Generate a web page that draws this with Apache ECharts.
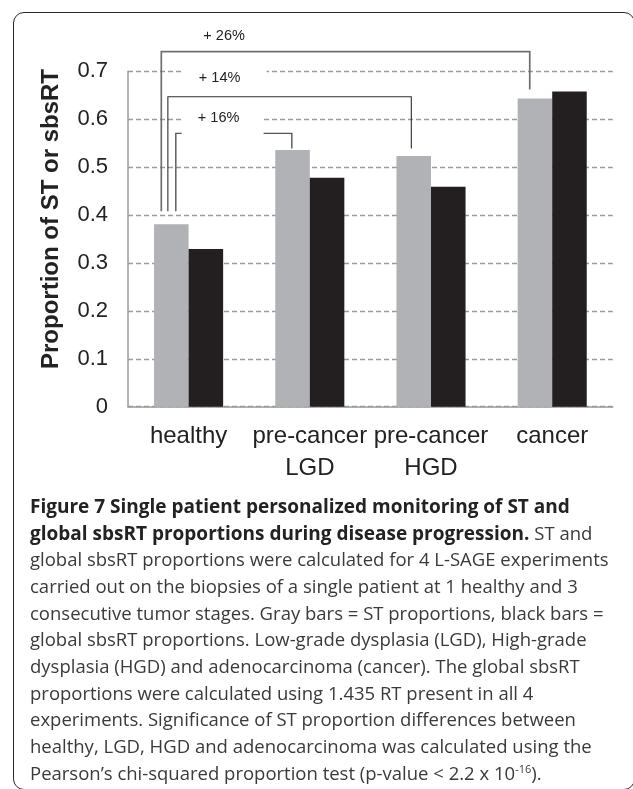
<!DOCTYPE html>
<html>
<head>
<meta charset="utf-8">
<script src="https://cdn.jsdelivr.net/npm/echarts@6/dist/echarts.min.js"></script>
<style>
  html, body { margin: 0; padding: 0; background: #fff; }
  #chart { position: absolute; left: 0; top: 0; width: 633px; height: 789px; }
  #frame { position: absolute; left: 13px; top: 12px; width: 622px; height: 778px;
           border: 1.5px solid #2a2a2a; border-radius: 11px; box-sizing: border-box; pointer-events: none; }
  #caption { position: absolute; left: 30px; top: 493px; font-family: "Open Sans", sans-serif;
             font-size: 18.5px; line-height: 26.67px; color: #3a3a3a; white-space: nowrap; }
  #caption b { font-weight: 700; color: #222; font-size: 19px; }
  #caption sup { font-size: 11px; line-height: 0; vertical-align: 7px; }
</style>
</head>
<body>
<div id="chart"></div>
<div id="frame"></div>
<div id="caption">
<b>Figure 7 Single patient personalized monitoring of ST and</b><br>
<b>global sbsRT proportions during disease progression.</b> ST and<br>
global sbsRT proportions were calculated for 4 L-SAGE experiments<br>
carried out on the biopsies of a single patient at 1 healthy and 3<br>
consecutive tumor stages. Gray bars = ST proportions, black bars =<br>
global sbsRT proportions. Low-grade dysplasia (LGD), High-grade<br>
dysplasia (HGD) and adenocarcinoma (cancer). The global sbsRT<br>
proportions were calculated using 1.435 RT present in all 4<br>
experiments. Significance of ST proportion differences between<br>
healthy, LGD, HGD and adenocarcinoma was calculated using the<br>
Pearson’s chi-squared proportion test (p-value &lt; 2.2 x 10<sup>-16</sup>).
</div>
<script>
// ---- data ----
const categories = ['healthy', 'pre-cancer\nLGD', 'pre-cancer\nHGD', 'cancer'];
const stValues = [0.381, 0.536, 0.523, 0.643];      // gray bars (ST)
const sbsrtValues = [0.329, 0.478, 0.459, 0.658];   // black bars (global sbsRT)
const yTicks = [0, 0.1, 0.2, 0.3, 0.4, 0.5, 0.6, 0.7];
const bracketLabels = ['+ 26%', '+ 14%', '+ 16%'];
const bracketFrom = [0, 0, 0];   // category index of left end
const bracketTo = [3, 2, 1];     // category index of right end
const bracketTop = [0.741, 0.647, 0.5705];      // level of horizontal line (y units)
const bracketLeftBottom = [0.408, 0.408, 0.408];
const bracketRightBottom = [0.662, 0.539, 0.539];
const bracketLabelY = [0.7735, 0.6854, 0.602];

const chart = echarts.init(document.getElementById('chart'));
const GAP = 0.43;
const FONT = '"Liberation Sans", Arial, Helvetica, sans-serif';

chart.setOption({
  animation: false,
  backgroundColor: '#fff',
  grid: { left: 128, right: 20.2, top: 71.3, bottom: 382.3, containLabel: false },
  xAxis: {
    type: 'category',
    data: categories,
    axisLine: { lineStyle: { color: '#9a9a9a', width: 1.5 } },
    axisTick: { show: false },
    axisLabel: { fontFamily: FONT, fontSize: 24, lineHeight: 32, color: '#222', margin: 14, interval: 0 }
  },
  yAxis: {
    type: 'value',
    min: 0, max: 0.7, interval: 0.1,
    axisLine: { show: true, lineStyle: { color: '#9a9a9a', width: 1.5 } },
    axisTick: { show: false },
    splitLine: { show: true, lineStyle: { color: '#9a9a9a', width: 1.3, type: [5, 3] } },
    axisLabel: {
      fontFamily: FONT, fontSize: 22, color: '#222', margin: 20,
      padding: [0, 0, 5, 0],
      formatter: v => {
        const t = yTicks.find(x => Math.abs(x - v) < 1e-9);
        return t === 0 ? '0' : (t !== undefined ? t.toFixed(1) : '');
      }
    }
  },
  series: [
    { name: 'ST', type: 'bar', data: stValues, barGap: '0%', barCategoryGap: (GAP * 100) + '%',
      itemStyle: { color: '#b1b2b5' }, z: 2 },
    { name: 'global sbsRT', type: 'bar', data: sbsrtValues,
      itemStyle: { color: '#231f20' }, z: 2 }
  ]
});

function px(cat, val) { return chart.convertToPixel({ xAxisIndex: 0, yAxisIndex: 0 }, [cat, val]); }

const c0 = px(0, 0), c1 = px(1, 0);
const catW = c1[0] - c0[0];
const barW = catW * (1 - GAP) / 2;
function grayLeft(cat) { return px(cat, 0)[0] - barW; }

const leftFrac = [0.21, 0.40, 0.63];
const rightFrac = [0.35, 0.43, 0.48];
const lineColors = ['#6f6f6f', '#2f2f2f', '#555555'];
const lineWidths = [1.7, 1.1, 1.4];

const elements = [];
for (let i = 0; i < bracketLabels.length; i++) {
  const xl = grayLeft(bracketFrom[i]) + leftFrac[i] * barW;
  const xr = grayLeft(bracketTo[i]) + rightFrac[i] * barW;
  const yTop = px(0, bracketTop[i])[1];
  const yLB = px(0, bracketLeftBottom[i])[1];
  const yRB = px(0, bracketRightBottom[i])[1];
  elements.push({
    type: 'polyline', z: 10,
    shape: { points: [[xl, yLB], [xl, yTop], [xr, yTop], [xr, yRB]] },
    style: { stroke: lineColors[i], lineWidth: lineWidths[i], fill: null }
  });
}
// white label boxes (cover gridlines behind labels)
const boxSpec = [null, { l: -7, r: 78, t: -16, b: 12 }, { l: -7, r: 75, t: -14, b: 18 }];
for (let i = 0; i < bracketLabels.length; i++) {
  const cx = px(0, 0)[0];
  const cy = px(0, bracketLabelY[i])[1];
  if (boxSpec[i]) {
    const b = boxSpec[i];
    elements.push({
      type: 'rect', z: 20,
      shape: { x: cx + b.l, y: cy + b.t, width: b.r - b.l, height: b.b - b.t },
      style: { fill: '#fff' }
    });
  }
}
const labelDx = [35.5, 31, 30];
for (let i = 0; i < bracketLabels.length; i++) {
  const cx = px(0, 0)[0] + labelDx[i];
  const cy = px(0, bracketLabelY[i])[1];
  elements.push({
    type: 'text', z: 30, x: cx, y: cy,
    style: { text: bracketLabels[i], fontFamily: FONT, fontSize: 14.5, fill: '#222',
             align: 'center', verticalAlign: 'middle' }
  });
}
// y-axis title
elements.push({
  type: 'text', z: 30, x: 51, y: 219, rotation: Math.PI / 2,
  style: { text: 'Proportion of ST or sbsRT', fontFamily: FONT, fontSize: 24, fontWeight: 'bold',
           fill: '#222', align: 'center', verticalAlign: 'middle' }
});

chart.setOption({ graphic: { elements: elements } });
</script>
</body>
</html>
